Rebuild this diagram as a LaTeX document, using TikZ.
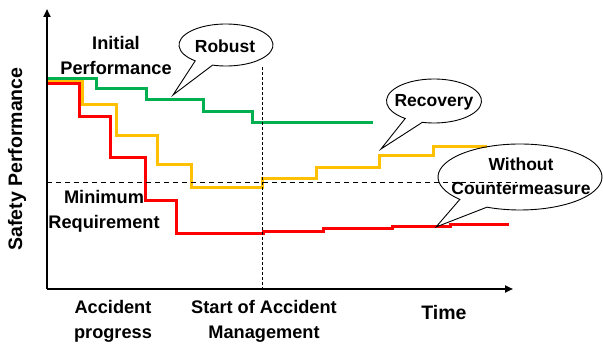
\documentclass[tikz,border=0pt]{standalone}
\usepackage{fontspec}
\setmainfont{Liberation Sans}
\usetikzlibrary{arrows.meta,calc}
\definecolor{cgreen}{HTML}{00B050}
\definecolor{cyellow}{HTML}{FFC000}
\definecolor{cred}{HTML}{FF0000}
\newcommand\mycallout[8]{% cx cy rx ry t1 t2 tipname name
  \draw[calloutline] (#7) -- ($(#8)+(#5:#3 and #4)$) arc[start angle=#5, end angle=#6+360, x radius=#3, y radius=#4] -- cycle;}
\begin{document}
\begin{tikzpicture}[x=1pt,y=-1pt,
  lbl/.style={font=\bfseries\fontsize{17.5}{24.5}\selectfont, align=center, inner sep=0pt},
  axlbl/.style={font=\bfseries\fontsize{18.2}{25}\selectfont, align=center, inner sep=0pt},
  biglbl/.style={font=\bfseries\fontsize{19.5}{24}\selectfont, inner sep=0pt},
  curve/.style={line width=3pt, line join=miter},
  axis/.style={line width=2.4pt, -{Triangle[length=8pt,width=7pt]}},
  calloutline/.style={line width=0.9pt, black, line join=miter},
  vdash/.style={line width=0.9pt, dash pattern=on 3pt off 2pt},
  hdash/.style={line width=0.9pt, dash pattern=on 5pt off 4pt}]
\useasboundingbox (0,0) rectangle (603,344);

% curves
\draw[curve, cgreen] (47,79) -- (96,79) -- (96,89) -- (146,89) -- (146,100) -- (203,100) -- (203,112) -- (252,112) -- (252,123) -- (373,123);
\draw[curve, cyellow] (47,81.5) -- (82,81.5) -- (82,105) -- (116,105) -- (116,136) -- (157,136) -- (157,165) -- (191,165) -- (191,188) -- (262,188) -- (262,179) -- (316,179) -- (316,168) -- (379,168) -- (379,156) -- (433,156) -- (433,147) -- (487,147);
\draw[curve, cred] (47,84) -- (79,84) -- (79,117) -- (110,117) -- (110,158) -- (145,158) -- (145,201) -- (176,201) -- (176,234) -- (263,234) -- (263,232) -- (323,232) -- (323,229) -- (392,229) -- (392,227) -- (450,227) -- (450,225) -- (509,225);

% reference lines
\coordinate (vtop) at (262,67);
\coordinate (vbot) at (262,289);
\coordinate (hleft) at (47,182);
\coordinate (hright) at (517,182);
\draw[vdash] (vtop) -- (vbot);
\draw[hdash] (hleft) -- (hright);

% axes
\coordinate (origin) at (47,289);
\coordinate (ytip) at (47,9);
\coordinate (xtip) at (513,289);
\draw[axis] (origin) -- (ytip);
\draw[axis] (origin) -- (xtip);

% callouts
\coordinate (robustc) at (226,45);
\coordinate (robusttip) at (173,95);
\mycallout{226}{45}{47}{21}{130.9}{106.6}{robusttip}{robustc}
\node[lbl] (robust) at (225,46) {Robust};

\coordinate (recc) at (434,101);
\coordinate (rectip) at (381,149);
\mycallout{434}{101}{47.5}{22}{127.3}{104.2}{rectip}{recc}
\node[lbl] (recovery) at (434,102) {Recovery};

\coordinate (woc) at (520,177);
\coordinate (wotip) at (436,227);
\mycallout{520}{177}{82}{33}{137.2}{113.8}{wotip}{woc}
\node[lbl] (without) at (521,176) {Without\\Countermeasure};

% labels
\node[axlbl] (initial) at (116,55) {Initial\\Performance};
\node[axlbl] (minimum) at (104,211) {Minimum\\Requirement};
\node[axlbl] (accident) at (113,321) {Accident\\progress};
\node[axlbl] (start) at (264,321) {Start of Accident\\Management};
\node[biglbl] (time) at (444,313) {Time};
\node[biglbl, rotate=90] (safety) at (17,159) {Safety Performance};
\end{tikzpicture}
\end{document}
